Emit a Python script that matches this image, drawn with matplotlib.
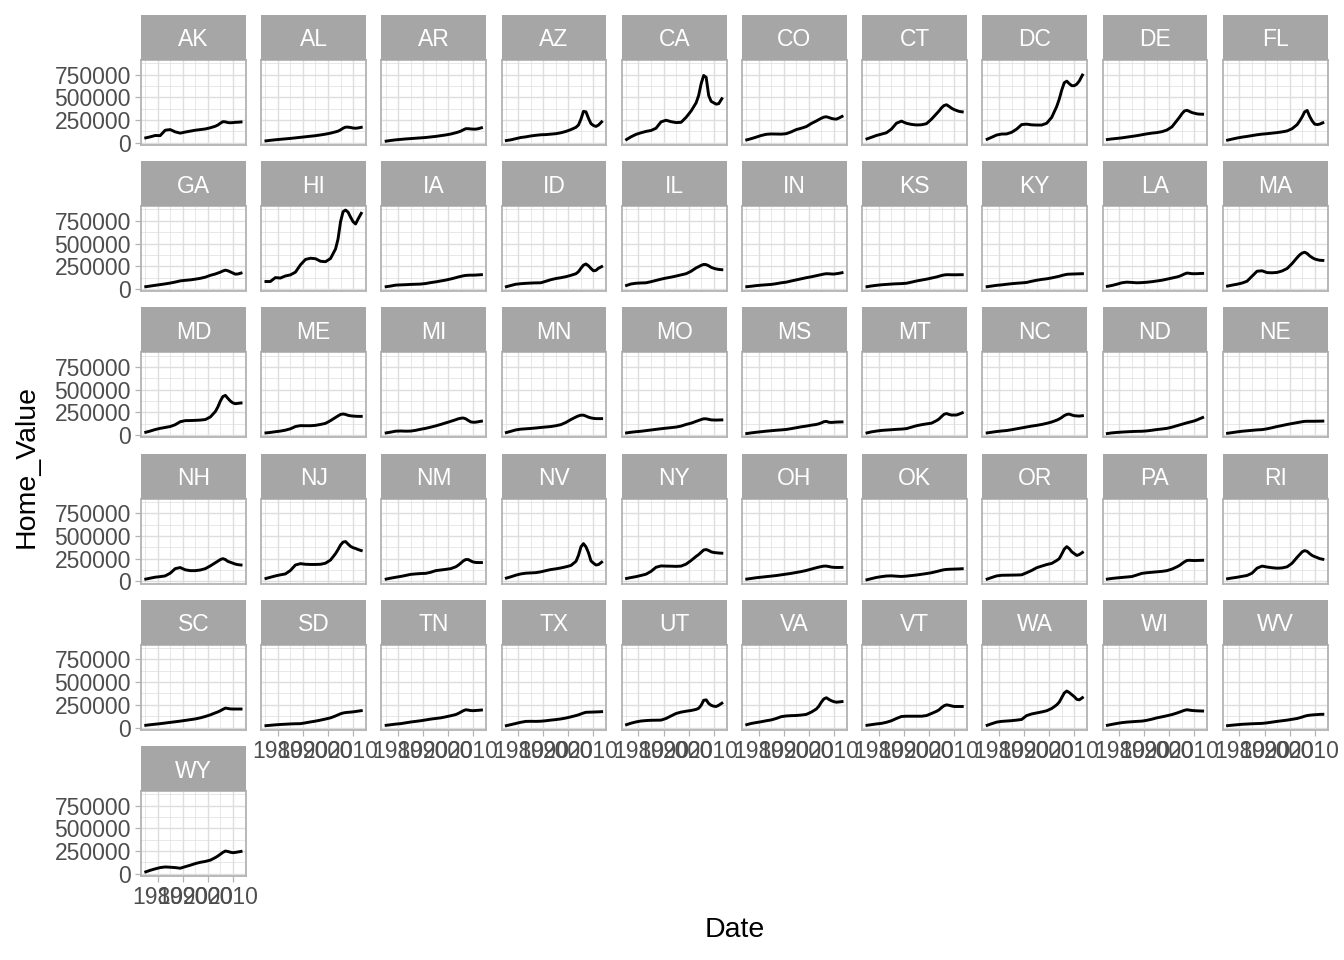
import numpy as np
import matplotlib
matplotlib.use("Agg")
from matplotlib import pyplot as plt

plt.rcParams['font.family'] = ['Liberation Sans', 'DejaVu Sans']

# sample dates (decimal years)
years = [1975.25, 1977, 1979, 1981, 1983, 1985, 1987, 1989, 1991, 1993, 1995, 1997, 1999,
         2001, 2003, 2004, 2005, 2006, 2007, 2008, 2009, 2010, 2011, 2012, 2013.25]

states = ["AK", "AL", "AR", "AZ", "CA", "CO", "CT", "DC", "DE", "FL",
          "GA", "HI", "IA", "ID", "IL", "IN", "KS", "KY", "LA", "MA",
          "MD", "ME", "MI", "MN", "MO", "MS", "MT", "NC", "ND", "NE",
          "NH", "NJ", "NM", "NV", "NY", "OH", "OK", "OR", "PA", "RI",
          "SC", "SD", "TN", "TX", "UT", "VA", "VT", "WA", "WI", "WV",
          "WY"]

# home values in thousands of dollars, one list per state
home_value_k = {
    "AK": [54, 65, 80, 79, 138, 145, 120, 106, 118, 128, 138, 145, 152, 165, 182, 195, 215, 232, 230, 222, 220, 222, 225, 226, 229],
    "AL": [21, 27, 33, 38, 43, 48, 54, 60, 66, 72, 78, 86, 95, 106, 120, 128, 142, 160, 172, 172, 168, 162, 160, 163, 170],
    "AR": [18, 25, 32, 37, 42, 46, 50, 54, 58, 64, 70, 78, 86, 96, 110, 118, 128, 142, 155, 155, 152, 150, 150, 155, 165],
    "AZ": [25, 32, 45, 58, 65, 75, 82, 88, 90, 95, 100, 110, 125, 145, 170, 195, 260, 345, 340, 270, 210, 190, 180, 195, 230],
    "CA": [36, 65, 92, 110, 125, 135, 160, 230, 248, 232, 222, 225, 280, 350, 440, 520, 650, 740, 720, 520, 455, 440, 425, 430, 485],
    "CO": [32, 45, 62, 80, 93, 97, 96, 95, 100, 120, 145, 160, 178, 212, 240, 255, 270, 282, 286, 278, 268, 262, 260, 272, 290],
    "CT": [43, 60, 80, 95, 110, 150, 215, 238, 214, 202, 196, 198, 210, 260, 320, 350, 385, 410, 418, 400, 380, 365, 355, 345, 340],
    "DC": [39, 60, 85, 96, 97, 115, 150, 200, 205, 197, 195, 195, 215, 280, 400, 480, 580, 660, 678, 650, 628, 628, 645, 680, 745],
    "DE": [36, 42, 48, 54, 62, 70, 78, 88, 98, 106, 112, 122, 140, 175, 245, 280, 320, 350, 357, 345, 332, 325, 318, 315, 314],
    "FL": [29, 40, 52, 62, 70, 79, 88, 95, 100, 106, 112, 120, 130, 155, 200, 240, 285, 340, 355, 290, 240, 205, 200, 205, 220],
    "GA": [25, 32, 40, 48, 56, 65, 76, 89, 95, 100, 108, 117, 130, 150, 165, 175, 185, 198, 207, 200, 188, 175, 163, 165, 175],
    "HI": [82, 82, 125, 120, 143, 155, 185, 265, 325, 338, 333, 305, 300, 335, 440, 550, 740, 850, 868, 845, 790, 740, 715, 770, 832],
    "IA": [25, 32, 42, 45, 47, 50, 52, 54, 60, 70, 78, 88, 98, 110, 124, 132, 138, 145, 149, 151, 152, 152, 153, 155, 157],
    "ID": [25, 38, 52, 58, 62, 65, 67, 68, 85, 102, 115, 124, 135, 150, 168, 190, 228, 262, 275, 255, 225, 200, 205, 228, 246],
    "IL": [39, 55, 63, 66, 68, 80, 94, 108, 120, 130, 142, 155, 168, 195, 232, 245, 260, 270, 268, 255, 238, 228, 220, 215, 212],
    "IN": [25, 30, 37, 42, 46, 50, 58, 68, 75, 88, 100, 112, 124, 134, 146, 152, 158, 164, 168, 167, 165, 164, 168, 172, 179],
    "KS": [25, 33, 40, 46, 50, 54, 57, 59, 63, 75, 88, 98, 108, 120, 132, 140, 148, 154, 157, 157, 156, 156, 156, 157, 157],
    "KY": [25, 32, 40, 45, 52, 58, 63, 67, 72, 85, 96, 105, 112, 122, 134, 140, 148, 155, 161, 163, 164, 165, 166, 167, 168],
    "LA": [29, 38, 52, 68, 75, 72, 68, 70, 74, 80, 88, 96, 108, 120, 132, 140, 152, 165, 175, 172, 168, 168, 168, 170, 171],
    "MA": [32, 42, 52, 65, 85, 140, 195, 200, 180, 178, 182, 198, 225, 280, 345, 375, 395, 404, 390, 364, 345, 330, 322, 316, 314],
    "MD": [32, 45, 62, 75, 85, 95, 115, 148, 160, 161, 163, 166, 172, 200, 260, 310, 375, 425, 438, 405, 375, 355, 346, 350, 354],
    "ME": [25, 30, 38, 45, 55, 70, 95, 105, 104, 104, 108, 118, 130, 160, 195, 212, 228, 233, 228, 218, 213, 210, 208, 207, 207],
    "MI": [25, 33, 44, 46, 44, 45, 53, 65, 75, 88, 102, 118, 135, 152, 170, 180, 186, 189, 180, 162, 146, 142, 143, 148, 154],
    "MN": [29, 42, 58, 66, 70, 74, 79, 85, 90, 95, 104, 116, 140, 172, 200, 212, 220, 220, 210, 198, 190, 185, 182, 182, 182],
    "MO": [25, 32, 38, 43, 50, 57, 64, 71, 77, 83, 89, 100, 118, 132, 152, 162, 172, 180, 180, 174, 168, 167, 166, 167, 168],
    "MS": [18, 25, 32, 38, 44, 49, 54, 58, 63, 72, 82, 92, 100, 110, 118, 125, 135, 148, 152, 142, 140, 142, 144, 145, 146],
    "MT": [25, 36, 45, 52, 56, 60, 64, 67, 72, 88, 104, 115, 124, 132, 160, 178, 205, 230, 238, 228, 221, 222, 222, 232, 246],
    "NC": [25, 32, 40, 46, 51, 60, 70, 80, 90, 100, 108, 118, 130, 145, 165, 178, 195, 215, 228, 232, 222, 214, 212, 210, 214],
    "ND": [18, 25, 30, 34, 37, 40, 42, 43, 47, 54, 62, 68, 75, 88, 104, 112, 120, 128, 136, 143, 150, 158, 168, 180, 194],
    "NE": [21, 28, 36, 43, 48, 53, 58, 61, 70, 82, 95, 106, 118, 128, 138, 143, 148, 152, 153, 153, 153, 153, 154, 154, 155],
    "NH": [25, 35, 46, 52, 60, 90, 140, 152, 127, 118, 118, 125, 140, 170, 205, 222, 240, 250, 240, 220, 210, 200, 190, 184, 180],
    "NJ": [32, 45, 60, 72, 82, 120, 180, 195, 188, 186, 186, 188, 200, 235, 305, 350, 400, 432, 438, 410, 385, 370, 362, 350, 339],
    "NM": [25, 35, 45, 54, 65, 77, 82, 86, 88, 100, 118, 125, 132, 140, 160, 178, 200, 225, 240, 240, 225, 213, 208, 207, 207],
    "NV": [36, 50, 68, 82, 90, 93, 96, 105, 118, 130, 138, 148, 160, 175, 220, 285, 380, 415, 380, 315, 225, 200, 180, 185, 211],
    "NY": [32, 42, 52, 65, 79, 110, 155, 170, 168, 167, 165, 168, 190, 230, 275, 295, 320, 345, 350, 340, 325, 318, 315, 312, 310],
    "OH": [25, 32, 40, 46, 52, 58, 64, 72, 80, 88, 98, 108, 120, 135, 150, 157, 163, 168, 168, 163, 157, 154, 153, 153, 154],
    "OK": [18, 30, 43, 52, 59, 61, 57, 54, 58, 64, 70, 78, 86, 95, 108, 115, 122, 128, 131, 133, 134, 135, 136, 137, 139],
    "OR": [25, 42, 60, 67, 68, 69, 70, 72, 95, 120, 150, 168, 185, 198, 230, 250, 300, 355, 382, 360, 325, 305, 285, 295, 318],
    "PA": [25, 32, 38, 43, 48, 53, 70, 88, 95, 100, 105, 110, 118, 135, 160, 175, 195, 215, 230, 232, 230, 229, 230, 231, 232],
    "RI": [29, 37, 45, 55, 65, 90, 145, 168, 158, 150, 145, 148, 160, 200, 265, 295, 325, 338, 330, 305, 285, 272, 262, 250, 243],
    "SC": [25, 31, 37, 43, 50, 57, 64, 71, 79, 87, 95, 107, 122, 140, 162, 172, 185, 200, 214, 210, 205, 204, 204, 204, 204],
    "SD": [21, 25, 30, 34, 37, 40, 42, 43, 52, 62, 71, 82, 94, 107, 128, 140, 152, 160, 165, 168, 170, 173, 177, 181, 186],
    "TN": [25, 31, 38, 43, 52, 61, 68, 75, 84, 93, 100, 107, 118, 130, 143, 155, 170, 185, 196, 192, 187, 186, 188, 190, 193],
    "TX": [21, 32, 45, 58, 68, 69, 68, 70, 75, 82, 88, 95, 105, 118, 132, 140, 150, 160, 168, 169, 170, 171, 172, 173, 175],
    "UT": [32, 48, 62, 72, 77, 80, 81, 82, 100, 128, 155, 170, 180, 188, 200, 212, 245, 300, 305, 265, 245, 235, 232, 245, 268],
    "VA": [32, 45, 55, 64, 75, 84, 100, 120, 128, 131, 133, 138, 145, 170, 204, 235, 280, 315, 328, 310, 295, 285, 279, 282, 286],
    "VT": [25, 32, 40, 46, 58, 75, 100, 122, 125, 125, 125, 125, 132, 155, 179, 195, 220, 240, 250, 245, 238, 232, 232, 232, 232],
    "WA": [25, 42, 60, 68, 72, 76, 82, 89, 132, 150, 161, 172, 185, 210, 250, 280, 330, 380, 402, 385, 362, 340, 310, 305, 329],
    "WI": [25, 35, 45, 54, 60, 64, 68, 71, 80, 92, 107, 118, 130, 143, 160, 170, 180, 190, 196, 192, 188, 186, 184, 183, 182],
    "WV": [21, 26, 31, 36, 39, 42, 44, 46, 52, 60, 68, 75, 82, 91, 100, 108, 116, 125, 132, 136, 139, 141, 143, 145, 146],
    "WY": [21, 38, 54, 68, 75, 72, 68, 61, 78, 94, 112, 126, 136, 150, 178, 195, 215, 235, 250, 245, 237, 232, 235, 240, 246],
}

x_ticks = [1980, 1990, 2000, 2010]
x_minor = [1975, 1985, 1995, 2005, 2015]
x_tick_labels = ["1980", "1990", "2000", "2010"]
y_ticks = [0, 250000, 500000, 750000]
y_minor = [125000, 375000, 625000, 875000]
y_tick_labels = ["0", "250000", "500000", "750000"]

W, H = 1344, 960
ncol = 10

# pixel layout of the facet grid
left0, col_pitch, pw = 141, 120.2, 104.8
top0, row_pitch, ph, sh = 60, 146.2, 85, 45

# shared limits with 5% padding, like ggplot
allv = np.concatenate([np.array(home_value_k[s]) * 1000 for s in states])
yr = np.array(years)
xpad = 0.05 * (yr.max() - yr.min())
ypad = 0.05 * (allv.max() - allv.min())
xlim = (yr.min() - xpad, yr.max() + xpad)
ylim = (allv.min() - ypad, allv.max() + ypad)

border = "#B3B3B3"
grid_col = "#DEDEDE"
strip_col = "#A6A6A6"
txt_col = "#4D4D4D"
fs = 16.5

fig = plt.figure(figsize=(W / 100, H / 100), dpi=100)

for i, st in enumerate(states):
    r, c = divmod(i, ncol)
    x0 = left0 + c * col_pitch
    y0 = top0 + r * row_pitch
    ax = fig.add_axes([x0 / W, 1 - (y0 + ph) / H, pw / W, ph / H])
    ax.plot(years, np.array(home_value_k[st]) * 1000, color="black", lw=2.1, zorder=3)
    ax.set_xlim(xlim)
    ax.set_ylim(ylim)
    ax.set_xticks(x_ticks)
    ax.set_xticks(x_minor, minor=True)
    ax.set_yticks(y_ticks)
    ax.set_yticks(y_minor, minor=True)
    ax.set_axisbelow(True)
    ax.grid(which="major", color=grid_col, lw=1.0)
    ax.grid(which="minor", color=grid_col, lw=0.5)
    for sp in ax.spines.values():
        sp.set_color(border)
        sp.set_linewidth(1.3)
    ax.tick_params(which="minor", length=0)
    ax.tick_params(which="major", colors=border, length=4, width=0.9, pad=3.2,
                   labelcolor=txt_col, labelsize=fs)

    # y axis only on the first column
    if c == 0:
        ax.set_yticklabels(y_tick_labels)
    else:
        ax.tick_params(axis="y", which="major", length=0, labelleft=False)

    # x axis only where no panel sits below
    if i + ncol < len(states):
        ax.tick_params(axis="x", which="major", length=0, labelbottom=False)
    else:
        ax.set_xticklabels(x_tick_labels)

    sax = fig.add_axes([x0 / W, 1 - y0 / H, pw / W, sh / H])
    sax.set_facecolor(strip_col)
    sax.set_xticks([])
    sax.set_yticks([])
    for sp in sax.spines.values():
        sp.set_visible(False)
    sax.text(0.5, 0.5, st, color="white", fontsize=fs, ha="center",
             va="center_baseline", transform=sax.transAxes)

fig.text(735 / W, 1 - 930 / H, "Date", fontsize=20.5, ha="center", va="center")
fig.text(27 / W, 1 - 467 / H, "Home_Value", fontsize=20.5, ha="center", va="center",
         rotation=90)

fig.savefig("out.png", dpi=100, facecolor="white")
